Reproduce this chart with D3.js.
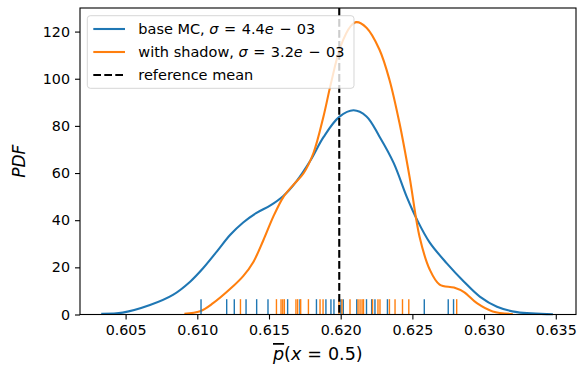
<!DOCTYPE html>
<html>
<head>
<meta charset="utf-8">
<script src="https://cdn.jsdelivr.net/npm/d3@7"></script>
<style>
  body { margin: 0; background: #fff; }
  svg { display: block; font-family: "DejaVu Sans", sans-serif; }
</style>
</head>
<body>
<div id="chart"></div>
<script>
// density curves: [x, pdf]
const baseCurve = [
  [0.6033, 0.3], [0.6048, 0.8], [0.6067, 4.0], [0.6083, 8.3], [0.6095, 13.9],
  [0.6104, 19.6], [0.6114, 27.0], [0.6123, 33.8], [0.6132, 39.0], [0.6141, 43.0],
  [0.6151, 46.3], [0.6160, 50.3], [0.6169, 56.4], [0.6179, 65.4], [0.6188, 75.2],
  [0.6199, 83.8], [0.6209, 86.6], [0.6218, 84.0], [0.6227, 75.5], [0.6237, 64.2],
  [0.6246, 50.0], [0.6253, 40.5], [0.6262, 30.6], [0.6274, 21.7], [0.6286, 13.9],
  [0.6297, 7.6], [0.6309, 3.3], [0.6323, 1.0], [0.6348, 0.1]
];
const shadowCurve = [
  [0.6091, 0.3], [0.6102, 1.4], [0.6111, 4.8], [0.6123, 10.9], [0.6132, 16.3],
  [0.6139, 22.2], [0.6146, 31.4], [0.6153, 41.5], [0.6160, 49.8], [0.6167, 55.0],
  [0.6174, 59.8], [0.6181, 68.5], [0.6188, 84.0], [0.6193, 97.5], [0.6200, 113.8],
  [0.6207, 122.3], [0.6211, 124.0], [0.6218, 121.6], [0.6227, 112.4], [0.6234, 99.6],
  [0.6241, 81.2], [0.6248, 58.5], [0.6255, 33.0], [0.6262, 19.2], [0.6269, 12.7],
  [0.6279, 11.4], [0.6286, 9.5], [0.6295, 4.8], [0.6306, 1.3], [0.6320, 0.2]
];
// individual samples (rug)
const baseSamples = [
  0.61026, 0.61205, 0.61258, 0.61340, 0.61414, 0.61493, 0.61630, 0.61716,
  0.61831, 0.61897, 0.61932, 0.61953, 0.62002, 0.62018, 0.62112, 0.62180,
  0.62216, 0.62239, 0.62326, 0.62583, 0.62750, 0.62787
];
const shadowSamples = [
  0.61301, 0.61552, 0.61584, 0.61596, 0.61607, 0.61688, 0.61700, 0.61721,
  0.61775, 0.61856, 0.61877, 0.61988, 0.62009, 0.62065, 0.62121, 0.62135,
  0.62149, 0.62159, 0.62222, 0.62260, 0.62274, 0.62340, 0.62379, 0.62431,
  0.62475, 0.62809
];
const referenceMean = 0.6199;
const xTicks = [0.605, 0.610, 0.615, 0.620, 0.625, 0.630, 0.635];
const yTicks = [0, 20, 40, 60, 80, 100, 120];
// label pieces: [text, italic, extra gap before]
const legendItems = [
  { color: '#1f77b4', dash: null, parts: [['base MC,', false, 0], ['σ', true, 4.6], ['=', false, 5.5], ['4.4', false, 5.5], ['e', true, 0], ['−', false, 5.5], ['03', false, 5.5]] },
  { color: '#ff7f0e', dash: null, parts: [['with shadow,', false, 0], ['σ', true, 4.6], ['=', false, 5.5], ['3.2', false, 5.5], ['e', true, 0], ['−', false, 5.5], ['03', false, 5.5]] },
  { color: '#000', dash: '7.7,3.3', parts: [['reference mean', false, 0]] }
];

const width = 579;
const height = 368;
const margin = { top: 8, right: 3, bottom: 53.5, left: 80 };
const w = width - margin.left - margin.right;
const h = height - margin.top - margin.bottom;

const svg = d3.select('#chart')
  .append('svg')
    .attr('width', width)
    .attr('height', height);

const g = svg.append('g')
  .attr('transform', `translate(${margin.left}, ${margin.top})`);

const x = d3.scaleLinear().domain([0.60182, 0.63641]).range([0, w]);
const y = d3.scaleLinear().domain([0, 130]).range([h, 0]);

const line = d3.line()
  .x(d => x(d[0]))
  .y(d => y(d[1]))
  .curve(d3.curveCatmullRom.alpha(0.5));

g.append('path')
  .datum(baseCurve)
  .attr('d', line)
  .attr('fill', 'none')
  .attr('stroke', '#1f77b4')
  .attr('stroke-width', 2.1);

g.append('path')
  .datum(shadowCurve)
  .attr('d', line)
  .attr('fill', 'none')
  .attr('stroke', '#ff7f0e')
  .attr('stroke-width', 2.1);

// rugs, 5% of the axes height
const rugH = h * 0.05;
g.selectAll('.rug-base')
  .data(baseSamples)
  .enter().append('line')
    .attr('class', 'rug-base')
    .attr('x1', d => x(d)).attr('x2', d => x(d))
    .attr('y1', h).attr('y2', h - rugH)
    .attr('stroke', '#1f77b4')
    .attr('stroke-width', 1.4);

g.selectAll('.rug-shadow')
  .data(shadowSamples)
  .enter().append('line')
    .attr('class', 'rug-shadow')
    .attr('x1', d => x(d)).attr('x2', d => x(d))
    .attr('y1', h).attr('y2', h - rugH)
    .attr('stroke', '#ff7f0e')
    .attr('stroke-width', 1.4);

g.append('line')
  .attr('x1', x(referenceMean)).attr('x2', x(referenceMean))
  .attr('y1', 0).attr('y2', h)
  .attr('stroke', '#000')
  .attr('stroke-width', 2.1)
  .attr('stroke-dasharray', '7.7,3.3');

// axes
const xAxis = g.append('g')
  .attr('transform', `translate(0, ${h})`)
  .call(d3.axisBottom(x).tickValues(xTicks).tickFormat(d3.format('.3f')).tickSizeOuter(0).tickSize(5).tickPadding(5));
const yAxis = g.append('g')
  .call(d3.axisLeft(y).tickValues(yTicks).tickSizeOuter(0).tickSize(5).tickPadding(5));

[xAxis, yAxis].forEach(a => {
  a.select('.domain').remove();
  a.selectAll('line').attr('stroke', '#000').attr('stroke-width', 1.1);
  a.selectAll('text')
    .attr('fill', '#000')
    .style('font-family', '"DejaVu Sans", sans-serif')
    .style('font-size', '14.3px');
});

g.append('rect')
  .attr('width', w).attr('height', h)
  .attr('fill', 'none')
  .attr('stroke', '#000')
  .attr('stroke-width', 1.1);

// legend
const legend = g.append('g').attr('transform', 'translate(7.3, 7.7)');
legend.append('rect')
  .attr('width', 266.7).attr('height', 72.6)
  .attr('rx', 3)
  .attr('fill', '#fff').attr('fill-opacity', 0.8)
  .attr('stroke', '#ccc').attr('stroke-opacity', 0.8);

const rows = legend.selectAll('.row')
  .data(legendItems)
  .enter().append('g')
    .attr('class', 'row')
    .attr('transform', (d, i) => `translate(0, ${13.3 + i * 23})`);

rows.append('line')
  .attr('x1', 6).attr('x2', 37.7)
  .attr('stroke', d => d.color)
  .attr('stroke-width', 2.1)
  .attr('stroke-dasharray', d => d.dash);

const labels = rows.append('text')
  .attr('x', 51)
  .attr('y', 5)
  .style('font-size', '14.5px');
labels.selectAll('tspan')
  .data(d => d.parts)
  .enter().append('tspan')
    .attr('dx', d => d[2])
    .style('font-style', d => d[1] ? 'italic' : 'normal')
    .text(d => d[0]);

// axis labels
svg.append('text')
  .attr('transform', `translate(25, ${margin.top + h / 2}) rotate(-90)`)
  .attr('text-anchor', 'middle')
  .style('font-size', '17px')
  .style('font-style', 'italic')
  .text('PDF');

const xlab = svg.append('text')
  .attr('x', 273)
  .attr('y', 360)
  .style('font-size', '17.5px');
xlab.append('tspan').style('font-style', 'italic').style('text-decoration', 'overline').text('p');
xlab.append('tspan').text('(');
xlab.append('tspan').style('font-style', 'italic').text('x');
xlab.append('tspan').attr('dx', 6).text('=');
xlab.append('tspan').attr('dx', 6).text('0.5)');
</script>
</body>
</html>
